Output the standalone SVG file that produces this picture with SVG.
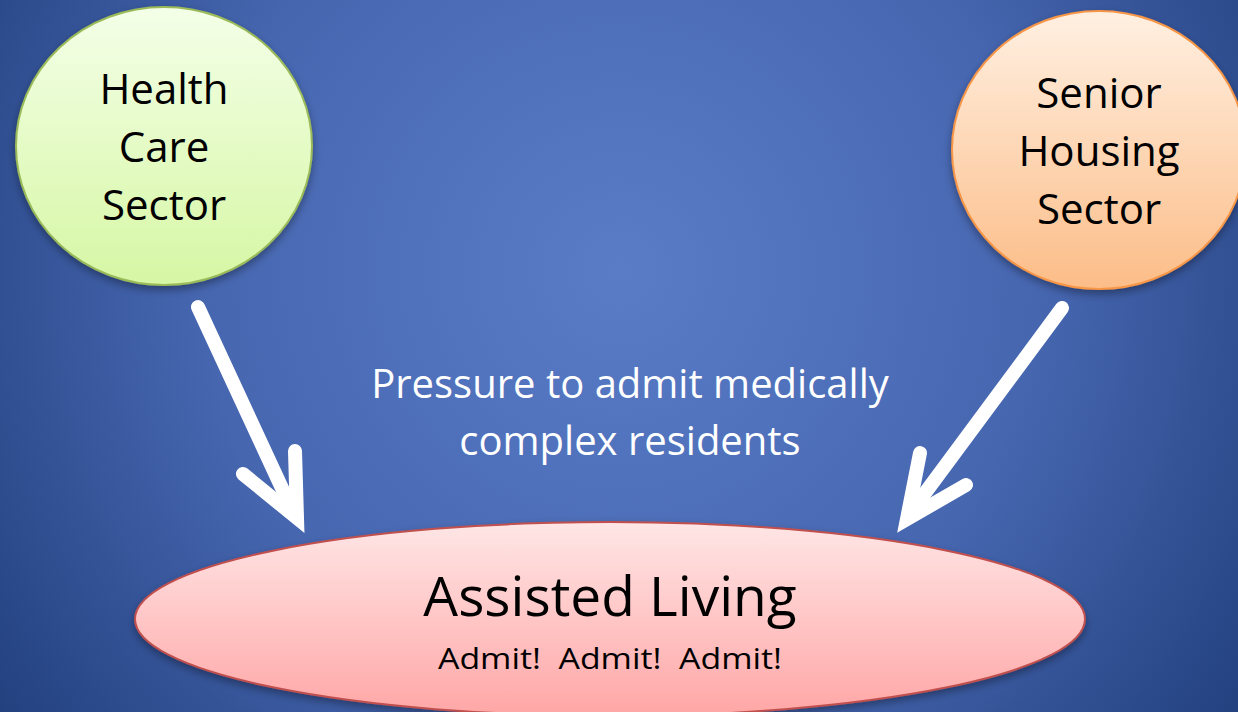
<svg xmlns="http://www.w3.org/2000/svg" width="1238" height="712" viewBox="0 0 1238 712">
<defs>
<radialGradient id="bg" cx="620" cy="270" r="760" gradientUnits="userSpaceOnUse">
<stop offset="0" stop-color="#5a7cc6"/>
<stop offset="0.55" stop-color="#4666b0"/>
<stop offset="1" stop-color="#23417f"/>
</radialGradient>
<linearGradient id="gGreen" x1="0" y1="0" x2="0" y2="1">
<stop offset="0" stop-color="#f4ffe8"/>
<stop offset="1" stop-color="#d6f7a4"/>
</linearGradient>
<linearGradient id="gOrange" x1="0" y1="0" x2="0" y2="1">
<stop offset="0" stop-color="#fff0e2"/>
<stop offset="1" stop-color="#fcbd88"/>
</linearGradient>
<linearGradient id="gRed" x1="0" y1="0" x2="0" y2="1">
<stop offset="0" stop-color="#ffe6e6"/>
<stop offset="1" stop-color="#ffa6a6"/>
</linearGradient>
<filter id="sh" x="-10%" y="-10%" width="120%" height="130%">
<feGaussianBlur in="SourceAlpha" stdDeviation="4"/>
<feOffset dx="0" dy="4" result="b"/>
<feComponentTransfer><feFuncA type="linear" slope="0.35"/></feComponentTransfer>
<feMerge><feMergeNode/><feMergeNode in="SourceGraphic"/></feMerge>
</filter>
</defs>
<style>
.lbl{font-family:"Open Sans","Noto Sans","Liberation Sans",sans-serif;fill:#000;text-anchor:middle}
.wt{font-family:"Open Sans","Noto Sans","Liberation Sans",sans-serif;fill:#fff;text-anchor:middle;font-size:40px}
.arr{fill:none;stroke:#fff;stroke-width:14;stroke-linecap:round;stroke-linejoin:miter}
</style>
<rect width="1238" height="712" fill="url(#bg)"/>
<g id="health-care">
<ellipse cx="164" cy="146" rx="148" ry="139" fill="url(#gGreen)" stroke="#9bbb59" stroke-width="2" filter="url(#sh)"/>
<text class="lbl" font-size="42" x="164" y="104">Health</text>
<text class="lbl" font-size="42" x="164" y="162">Care</text>
<text class="lbl" font-size="42" x="164" y="220">Sector</text>
</g>
<g id="senior-housing">
<ellipse cx="1099" cy="150" rx="147" ry="139" fill="url(#gOrange)" stroke="#f79646" stroke-width="2" filter="url(#sh)"/>
<text class="lbl" font-size="42" x="1099" y="108">Senior</text>
<text class="lbl" font-size="42" x="1099" y="166">Housing</text>
<text class="lbl" font-size="42" x="1099" y="224">Sector</text>
</g>
<g id="assisted-living">
<ellipse cx="610" cy="619" rx="475" ry="97" fill="url(#gRed)" stroke="#c0504d" stroke-width="2" filter="url(#sh)"/>
<text class="lbl" font-size="55" x="610" y="616">Assisted Living</text>
<text class="lbl" font-size="30" x="610" y="669" xml:space="preserve" textLength="344" lengthAdjust="spacingAndGlyphs">Admit!  Admit!  Admit!</text>
</g>
<g id="label">
<text class="wt" x="630" y="398">Pressure to admit medically</text>
<text class="wt" x="630" y="455">complex residents</text>
</g>
<g id="connectors">
<path class="arr" d="M198 307 L293 512"/>
<path class="arr" d="M295 451 L297 518 L243 474"/>
<path class="arr" d="M1062 308 L911 512"/>
<path class="arr" d="M920 453 L907 519 L966 485"/>
</g>
</svg>
